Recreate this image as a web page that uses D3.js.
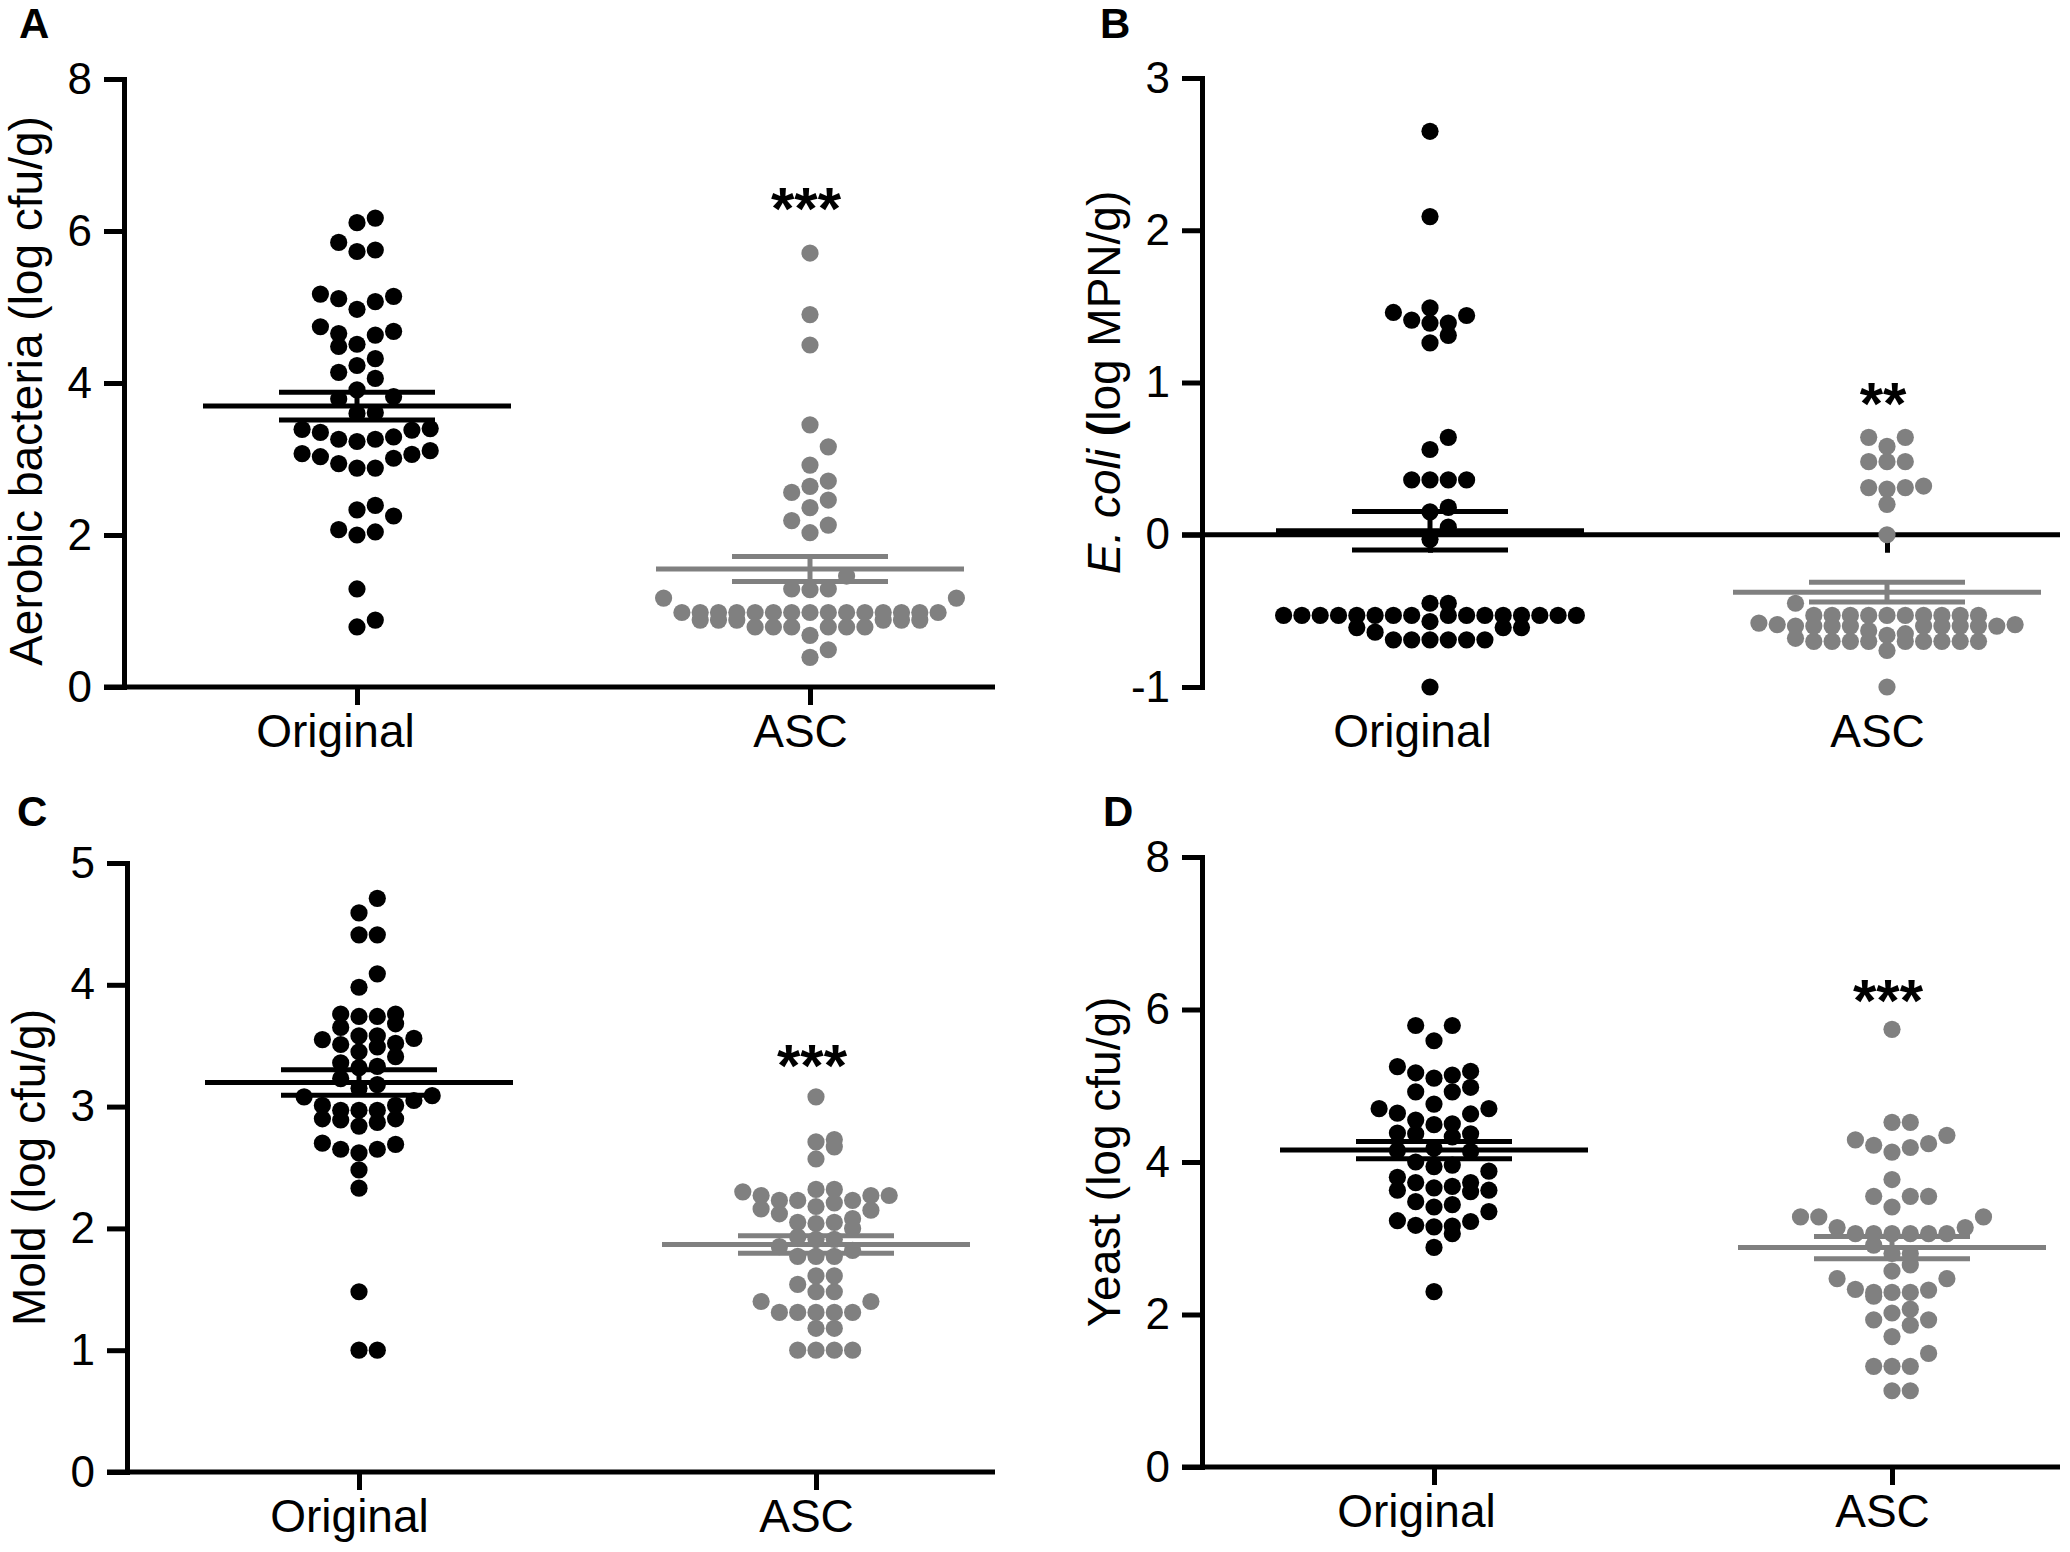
<!DOCTYPE html>
<html>
<head>
<meta charset="utf-8">
<script src="https://cdn.jsdelivr.net/npm/d3@7"></script>
<style>
  body { margin: 0; background: #fff; }
  text { font-family: "Liberation Sans", Arial, sans-serif; }
</style>
</head>
<body>
<script>
// ---- data ----
const categories = ["Original", "ASC"];

const aerobicOriginal = [6.17, 6.11, 5.85, 5.75, 5.73, 5.17, 5.14, 5.11, 5.07, 4.97,
  4.74, 4.68, 4.65, 4.63, 4.51, 4.48, 4.32, 4.23, 4.14, 4.06, 3.91, 3.82, 3.79, 3.61, 3.60,
  3.40, 3.39, 3.38, 3.35, 3.29, 3.26, 3.26, 3.23, 3.11, 3.07, 3.06, 3.03, 3.01, 2.94, 2.88,
  2.88, 2.39, 2.33, 2.25, 2.07, 2.04, 2.00, 1.29, 0.88, 0.79];
const aerobicASC = [5.71, 4.90, 4.50, 3.45, 3.16, 2.92, 2.71, 2.64, 2.56, 2.46, 2.36, 2.19,
  2.13, 2.03, 1.46, 1.29, 1.29, 1.28, 1.17, 1.17,
  0.98, 0.98, 0.98, 0.98, 0.98, 0.98, 0.98, 0.98, 0.98, 0.98, 0.98, 0.98, 0.98, 0.98, 0.98,
  0.88, 0.88, 0.88, 0.88, 0.88, 0.88, 0.79, 0.79, 0.79, 0.79, 0.79, 0.79, 0.68, 0.49, 0.39];

const ecoliOriginal = [2.65, 2.09, 1.49, 1.46, 1.44, 1.41, 1.39, 1.39, 1.31, 1.26, 0.64, 0.56,
  0.36, 0.36, 0.36, 0.36, 0.18, 0.15, 0.05, -0.03, -0.45, -0.45,
  -0.53, -0.53, -0.53, -0.53, -0.53, -0.53, -0.53, -0.53, -0.53, -0.53, -0.53, -0.53, -0.53,
  -0.53, -0.53, -0.53, -0.57, -0.61, -0.61, -0.61, -0.64,
  -0.69, -0.69, -0.69, -0.69, -0.69, -0.69, -1.0];
const ecoliASC = [0.64, 0.64, 0.58, 0.48, 0.48, 0.48, 0.32, 0.31, 0.31, 0.30, 0.20, 0.0, -0.45,
  -0.53, -0.53, -0.53, -0.53, -0.53, -0.53, -0.53, -0.53, -0.53, -0.53,
  -0.58, -0.59, -0.59, -0.60, -0.60, -0.60, -0.60, -0.60, -0.60, -0.60, -0.60, -0.60,
  -0.63, -0.65, -0.66, -0.68, -0.70, -0.70, -0.70, -0.70, -0.70, -0.70, -0.70, -0.70, -0.70,
  -0.76, -1.0];

const moldOriginal = [4.71, 4.59, 4.41, 4.41, 4.09, 3.98, 3.76, 3.76, 3.74, 3.74, 3.68, 3.65,
  3.58, 3.58, 3.56, 3.55, 3.52, 3.51, 3.49, 3.45, 3.41, 3.36, 3.33, 3.32, 3.23, 3.18, 3.15,
  3.09, 3.08, 3.05, 3.01, 3.01, 2.97, 2.97, 2.97, 2.90, 2.90, 2.89, 2.87, 2.84,
  2.70, 2.69, 2.65, 2.65, 2.62, 2.48, 2.33, 1.48, 1.0, 1.0];
const moldASC = [3.08, 2.73, 2.71, 2.67, 2.57, 2.32, 2.32, 2.30, 2.27, 2.27, 2.27, 2.23, 2.23,
  2.23, 2.21, 2.18, 2.16, 2.15, 2.12, 2.08, 2.05, 2.05, 2.04, 2.00, 1.93, 1.91, 1.91, 1.85,
  1.82, 1.77, 1.77, 1.77, 1.61, 1.61, 1.54, 1.48, 1.48, 1.40, 1.40,
  1.31, 1.31, 1.31, 1.31, 1.31, 1.18, 1.18, 1.0, 1.0, 1.0, 1.0];

const yeastOriginal = [5.79, 5.79, 5.59, 5.25, 5.19, 5.17, 5.14, 5.10, 4.98, 4.92, 4.92, 4.76,
  4.70, 4.70, 4.64, 4.63, 4.55, 4.50, 4.49, 4.38, 4.37, 4.37, 4.33, 4.18, 4.15, 4.14, 4.00,
  3.96, 3.94, 3.88, 3.80, 3.73, 3.73, 3.68, 3.66, 3.63, 3.63, 3.61, 3.48, 3.44, 3.41, 3.35,
  3.23, 3.22, 3.17, 3.16, 3.15, 3.06, 2.88, 2.30];
const yeastASC = [5.74, 4.52, 4.52, 4.35, 4.29, 4.24, 4.22, 4.19, 4.13, 3.77, 3.55, 3.55, 3.55,
  3.41, 3.28, 3.28, 3.28, 3.14, 3.14, 3.06, 3.06, 3.06, 3.06, 3.06, 3.06, 2.91, 2.80, 2.80,
  2.65, 2.57, 2.47, 2.47, 2.33, 2.32, 2.29, 2.29, 2.29, 2.24, 2.07, 2.02, 1.93, 1.93, 1.86,
  1.71, 1.49, 1.32, 1.32, 1.32, 1.0, 1.0];

const yTicksA = [0, 2, 4, 6, 8];
const yTicksB = [-1, 0, 1, 2, 3];
const yTicksC = [0, 1, 2, 3, 4, 5];
const yTicksD = [0, 2, 4, 6, 8];

const significance = ["***", "**", "***", "***"];
const significanceLevel = [6.47, 0.95, 3.45, 6.3];   // height of the stars, in data units

// ---- drawing ----
const svg = d3.select("body").append("svg")
  .attr("width", 2070)
  .attr("height", 1552);

const colors = ["#000000", "#808080"];
const dotR = 8.6, dotStep = 18.3;
const font = "'Liberation Sans', Arial, sans-serif";

// Prism-like column scatter: group points into horizontal bins,
// then fan them out from the centre (0, +1, -1, +2, -2 ...)
function swarmOffsets(py, binHeight) {
  const order = d3.range(py.length).sort((a, b) => py[b] - py[a]);
  const offsets = new Array(py.length).fill(0);
  let binStart = null, k = 0;
  order.forEach(i => {
    if (binStart === null || binStart - py[i] >= binHeight) {
      binStart = py[i];
      k = 0;
    }
    const slot = k === 0 ? 0 : (k % 2 ? Math.ceil(k / 2) : -k / 2);
    offsets[i] = slot * dotStep;
    k++;
  });
  return offsets;
}

function drawPanel(p) {
  const y = d3.scaleLinear().domain(p.domain).range([p.bottom, p.top]);
  const x = d3.scalePoint().domain(categories).range([p.xOrig, p.xAsc]);
  const g = svg.append("g");

  // y axis
  const yAxis = g.append("g")
    .attr("transform", `translate(${p.left},0)`)
    .call(d3.axisLeft(y).tickValues(p.ticks).tickSize(20).tickSizeOuter(0)
      .tickPadding(12).tickFormat(d => String(d)));
  yAxis.select(".domain").attr("stroke-width", 5).attr("stroke-linecap", "square");
  yAxis.selectAll(".tick line").attr("stroke-width", 5);
  yAxis.selectAll(".tick text").attr("font-size", 44).attr("fill", "#000")
    .style("font-family", font);

  // x axis line at y = 0 with downward category ticks
  g.append("line")
    .attr("x1", p.left - 20).attr("x2", p.axisEnd)
    .attr("y1", y(0)).attr("y2", y(0))
    .attr("stroke", "#000").attr("stroke-width", 5);
  const xTicks = g.append("g")
    .attr("transform", `translate(0,${y(0)})`)
    .call(d3.axisBottom(x).tickSize(18).tickFormat(""));
  xTicks.select(".domain").remove();
  xTicks.selectAll(".tick line").attr("stroke-width", 5);

  // category labels under the plot
  const xLabels = g.append("g")
    .attr("transform", `translate(0,${p.bottom})`)
    .call(d3.axisBottom(x).tickSize(0).tickPadding(27));
  xLabels.select(".domain").remove();
  xLabels.selectAll(".tick text").attr("font-size", 46).attr("fill", "#000")
    .attr("dx", (d, i) => p.labelDx[i])
    .style("font-family", font);

  // points
  p.groups.forEach((vals, gi) => {
    const cx = x(categories[gi]);
    const off = swarmOffsets(vals.map(v => y(v)), p.bin);
    g.append("g").selectAll("circle")
      .data(vals)
      .join("circle")
      .attr("cx", (d, i) => cx + off[i])
      .attr("cy", d => y(d))
      .attr("r", dotR)
      .attr("fill", colors[gi]);
  });

  // mean +/- SEM
  p.groups.forEach((vals, gi) => {
    const cx = x(categories[gi]);
    const m = d3.mean(vals);
    const sem = d3.deviation(vals) / Math.sqrt(vals.length);
    const eb = g.append("g").attr("stroke", colors[gi]).attr("stroke-width", 5);
    eb.append("line").attr("x1", cx - 154).attr("x2", cx + 154).attr("y1", y(m)).attr("y2", y(m));
    eb.append("line").attr("x1", cx).attr("x2", cx).attr("y1", y(m - sem)).attr("y2", y(m + sem));
    [m - sem, m + sem].forEach(v => {
      eb.append("line").attr("x1", cx - 78).attr("x2", cx + 78).attr("y1", y(v)).attr("y2", y(v));
    });
  });

  // significance stars
  g.append("text")
    .attr("x", x(categories[1]) - 4)
    .attr("y", y(p.sigLevel) + 0.57 * 60)
    .attr("text-anchor", "middle")
    .attr("font-size", 60)
    .attr("font-weight", "bold")
    .text(p.sig);

  // y axis title
  const title = g.append("text")
    .attr("transform", `translate(${p.left - 82},${(p.top + p.bottom) / 2 + p.titleShift}) rotate(-90)`)
    .attr("text-anchor", "middle")
    .attr("font-size", 46);
  p.title.forEach(part => {
    title.append("tspan")
      .attr("font-style", part.italic ? "italic" : "normal")
      .attr("font-weight", part.bold ? "bold" : "normal")
      .text(part.t);
  });

  // panel letter
  g.append("text")
    .attr("x", p.letterX).attr("y", p.letterY)
    .attr("font-size", 42)
    .attr("font-weight", "bold")
    .text(p.letter);
}

const panels = [
  { letter: "A", letterX: 19, letterY: 38, left: 124, top: 79, bottom: 687, domain: [0, 8],
    ticks: yTicksA, xOrig: 357, xAsc: 810, axisEnd: 995, bin: 20, labelDx: [-22, -10], titleShift: 8,
    groups: [aerobicOriginal, aerobicASC], sig: significance[0], sigLevel: significanceLevel[0],
    title: [{ t: "Aerobic bacteria (log cfu/g)" }] },
  { letter: "B", letterX: 1100, letterY: 38, left: 1202, top: 78, bottom: 687, domain: [-1, 3],
    ticks: yTicksB, xOrig: 1430, xAsc: 1887, axisEnd: 2060, bin: 14, labelDx: [-18, -10], titleShift: 0,
    groups: [ecoliOriginal, ecoliASC], sig: significance[1], sigLevel: significanceLevel[1],
    title: [{ t: "E. coli", italic: true }, { t: " " }, { t: "(", bold: true }, { t: "log MPN/g)" }] },
  { letter: "C", letterX: 17, letterY: 826, left: 127, top: 863, bottom: 1472, domain: [0, 5],
    ticks: yTicksC, xOrig: 359, xAsc: 816, axisEnd: 995, bin: 15, labelDx: [-10, -10], titleShift: 0,
    groups: [moldOriginal, moldASC], sig: significance[2], sigLevel: significanceLevel[2],
    title: [{ t: "Mold (log cfu/g)" }] },
  { letter: "D", letterX: 1103, letterY: 826, left: 1202, top: 857, bottom: 1467, domain: [0, 8],
    ticks: yTicksD, xOrig: 1434, xAsc: 1892, axisEnd: 2060, bin: 17, labelDx: [-18, -10], titleShift: 0,
    groups: [yeastOriginal, yeastASC], sig: significance[3], sigLevel: significanceLevel[3],
    title: [{ t: "Yeast (log cfu/g)" }] }
];

panels.forEach(drawPanel);
</script>
</body>
</html>
